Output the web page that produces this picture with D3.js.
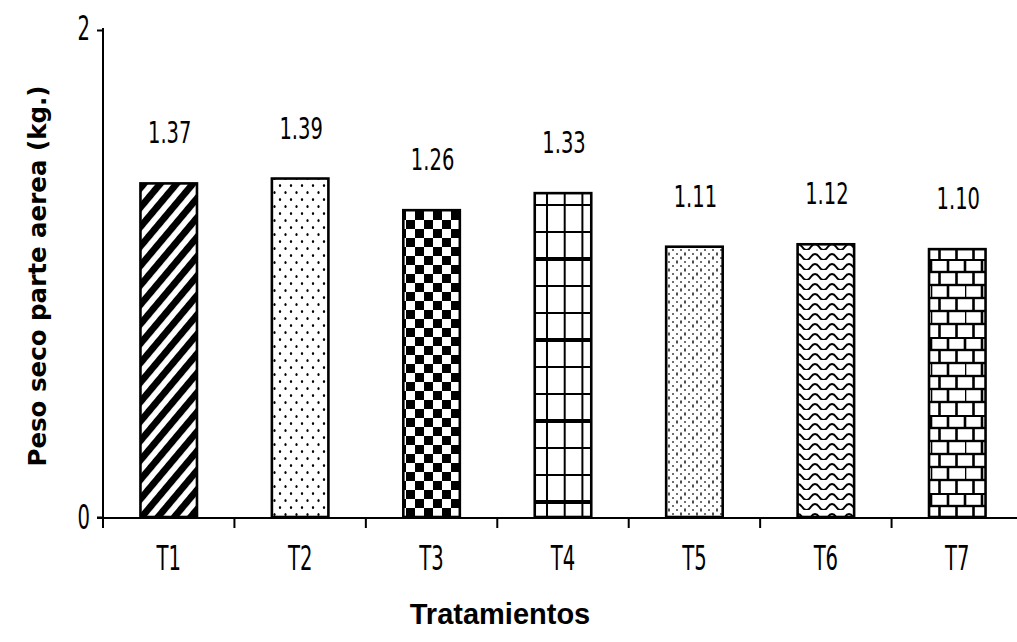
<!DOCTYPE html>
<html>
<head>
<meta charset="utf-8">
<script src="https://cdn.jsdelivr.net/npm/d3@7"></script>
<style>
  html, body { margin: 0; padding: 0; background: #fff; }
  svg { display: block; }
</style>
</head>
<body>
<script>
// Dry weight of aerial part per treatment
const categories = ["T1", "T2", "T3", "T4", "T5", "T6", "T7"];
const values = [1.37, 1.39, 1.26, 1.33, 1.11, 1.12, 1.10];
const valueLabels = ["1.37", "1.39", "1.26", "1.33", "1.11", "1.12", "1.10"];
const yTicks = [0, 2];
const patternIds = ["stripes", "dots", "checker", "grid", "fineDots", "waves", "bricks"];

const W = 1017, H = 642;
const svg = d3.select("body").append("svg").attr("width", W).attr("height", H);

const x = d3.scaleBand().domain(categories).range([103, 1023]).paddingInner(0).paddingOuter(0);
const y = d3.scaleLinear().domain([0, 2]).range([517, 30]);
const barW = x.bandwidth() * 0.43;

// ---- fill patterns ----
const defs = svg.append("defs");

// diagonal stripes
const pStripe = defs.append("pattern").attr("id", "stripes").attr("patternUnits", "userSpaceOnUse")
  .attr("width", 12.5).attr("height", 12.5).attr("patternTransform", "rotate(40)");
pStripe.append("rect").attr("width", 12.5).attr("height", 12.5).attr("fill", "#fff");
pStripe.append("rect").attr("width", 6.8).attr("height", 12.5).attr("fill", "#000");

// coarse dots
const pDots = defs.append("pattern").attr("id", "dots").attr("patternUnits", "userSpaceOnUse")
  .attr("width", 11).attr("height", 14).attr("x", 2);
pDots.append("rect").attr("width", 11).attr("height", 14).attr("fill", "#fff");
pDots.append("ellipse").attr("cx", 3).attr("cy", 3.5).attr("rx", 1.1).attr("ry", 1.6).attr("fill", "#000");
pDots.append("ellipse").attr("cx", 8.5).attr("cy", 10.5).attr("rx", 1.1).attr("ry", 1.6).attr("fill", "#000");

// checkerboard
const pCheck = defs.append("pattern").attr("id", "checker").attr("patternUnits", "userSpaceOnUse")
  .attr("width", 18).attr("height", 18).attr("x", 406).attr("y", 4);
pCheck.append("rect").attr("width", 18).attr("height", 18).attr("fill", "#fff");
pCheck.append("rect").attr("width", 9).attr("height", 9).attr("fill", "#000");
pCheck.append("rect").attr("x", 9).attr("y", 9).attr("width", 9).attr("height", 9).attr("fill", "#000");

// grid with heavier rule every third row
const pGrid = defs.append("pattern").attr("id", "grid").attr("patternUnits", "userSpaceOnUse")
  .attr("width", 17.7).attr("height", 81).attr("x", 547).attr("y", 259);
pGrid.append("rect").attr("width", 17.7).attr("height", 81).attr("fill", "#fff");
pGrid.append("rect").attr("x", -1).attr("width", 2).attr("height", 81).attr("fill", "#000");
pGrid.append("rect").attr("x", 16.7).attr("width", 2).attr("height", 81).attr("fill", "#000");
pGrid.append("rect").attr("y", -2).attr("width", 17.7).attr("height", 4).attr("fill", "#000");
pGrid.append("rect").attr("y", 26).attr("width", 17.7).attr("height", 2).attr("fill", "#000");
pGrid.append("rect").attr("y", 53).attr("width", 17.7).attr("height", 2).attr("fill", "#000");
pGrid.append("rect").attr("y", 79).attr("width", 17.7).attr("height", 4).attr("fill", "#000");

// fine sparse dots
const pFine = defs.append("pattern").attr("id", "fineDots").attr("patternUnits", "userSpaceOnUse")
  .attr("width", 16).attr("height", 16).attr("x", 663);
pFine.append("rect").attr("width", 16).attr("height", 16).attr("fill", "#fff");
[[2, 2], [10, 2], [6, 6], [14, 6], [2, 10], [10, 10], [6, 14], [14, 14]].forEach(([cx, cy], i) => {
  pFine.append("rect").attr("x", cx - 0.7).attr("y", cy - (i % 3 === 0 ? 1.5 : 0.8))
    .attr("width", 1.4).attr("height", i % 3 === 0 ? 3 : 1.6).attr("fill", "#000");
});

// waves
const pWave = defs.append("pattern").attr("id", "waves").attr("patternUnits", "userSpaceOnUse")
  .attr("width", 17).attr("height", 10).attr("x", 798);
pWave.append("rect").attr("width", 17).attr("height", 10).attr("fill", "#fff");
pWave.append("path").attr("d", "M-4.25,7 Q0,1 4.25,7 T12.75,7 T21.25,7")
  .attr("fill", "none").attr("stroke", "#000").attr("stroke-width", 2);

// bricks
const pBrick = defs.append("pattern").attr("id", "bricks").attr("patternUnits", "userSpaceOnUse")
  .attr("width", 34).attr("height", 78).attr("x", 931).attr("y", 259);
pBrick.append("rect").attr("width", 34).attr("height", 78).attr("fill", "#fff");
for (let r = 0; r < 6; r++) {
  const top = r * 13;
  pBrick.append("rect").attr("x", 0).attr("y", top - (r === 0 ? 2 : 1.2))
    .attr("width", 34).attr("height", r === 0 ? 4 : 2.4).attr("fill", "#000");
  const offs = r % 2 === 0 ? [0, 17] : [8.5, 25.5];
  offs.forEach(ox => {
    pBrick.append("rect").attr("x", ox - 1.3).attr("y", top).attr("width", 2.6).attr("height", 13).attr("fill", "#000");
  });
}
pBrick.append("rect").attr("x", 32.7).attr("y", 0).attr("width", 1.3).attr("height", 13).attr("fill", "#000");

// ---- axes ----
const xAxis = svg.append("g").attr("transform", `translate(0,${y(0) + 1})`)
  .call(d3.axisBottom(x).tickSize(0).tickFormat(""));
xAxis.select(".domain").remove();
xAxis.append("line").attr("x1", 97).attr("x2", W).attr("y1", 0).attr("y2", 0)
  .attr("stroke", "#000").attr("stroke-width", 2);
// ticks at the band boundaries
const bounds = categories.map(c => x(c));
xAxis.selectAll(".bound").data(bounds).join("line").attr("class", "bound")
  .attr("x1", d => d).attr("x2", d => d).attr("y1", 0).attr("y2", 10)
  .attr("stroke", "#000").attr("stroke-width", 2);

const yAxis = svg.append("g").attr("transform", "translate(103,0)")
  .call(d3.axisLeft(y).tickValues(yTicks).tickSize(6).tickFormat(""));
yAxis.select(".domain").attr("stroke", "#000").attr("stroke-width", 2).attr("d", `M0,${y(2) - 2}V${y(0) + 1}`);
yAxis.selectAll(".tick line").attr("stroke", "#000").attr("stroke-width", 2);

const narrow = "'DejaVu Sans Condensed', 'Liberation Sans Narrow', sans-serif";

// y tick labels
svg.selectAll(".ylab").data(yTicks).join("text").attr("class", "ylab")
  .attr("transform", d => `translate(90,${y(d) + (d === 0 ? 12 : 10)}) scale(0.64,1)`)
  .attr("text-anchor", "end").attr("font-family", narrow).attr("font-size", 34)
  .text(d => d3.format("d")(d));

// x tick labels
svg.selectAll(".xlab").data(categories).join("text").attr("class", "xlab")
  .attr("transform", d => `translate(${x(d) + x.bandwidth() / 2},${570}) scale(0.66,1)`)
  .attr("text-anchor", "middle").attr("font-family", narrow).attr("font-size", 33)
  .text(d => d);

// ---- bars ----
svg.selectAll(".bar").data(values).join("rect").attr("class", "bar")
  .attr("x", (d, i) => x(categories[i]) + (x.bandwidth() - barW) / 2)
  .attr("y", d => y(d))
  .attr("width", barW)
  .attr("height", d => y(0) - y(d))
  .attr("fill", (d, i) => `url(#${patternIds[i]})`)
  .attr("stroke", "#000").attr("stroke-width", 2.6);

// value labels
svg.selectAll(".vlab").data(values).join("text").attr("class", "vlab")
  .attr("transform", (d, i) => `translate(${x(categories[i]) + x.bandwidth() / 2 + 1},${y(d) - 40}) scale(0.7,1)`)
  .attr("text-anchor", "middle").attr("font-family", narrow).attr("font-size", 31)
  .text((d, i) => valueLabels[i]);

// axis titles
svg.append("text")
  .attr("transform", `translate(46,${276}) rotate(-90)`)
  .attr("text-anchor", "middle").attr("font-family", "'DejaVu Sans', sans-serif")
  .attr("font-weight", "bold").attr("font-size", 24.5)
  .text("Peso seco parte aerea (kg.)");

svg.append("text")
  .attr("x", 500).attr("y", 624)
  .attr("text-anchor", "middle").attr("font-family", "'Liberation Sans', Arial, sans-serif")
  .attr("font-weight", "bold").attr("font-size", 29)
  .text("Tratamientos");
</script>
</body>
</html>
